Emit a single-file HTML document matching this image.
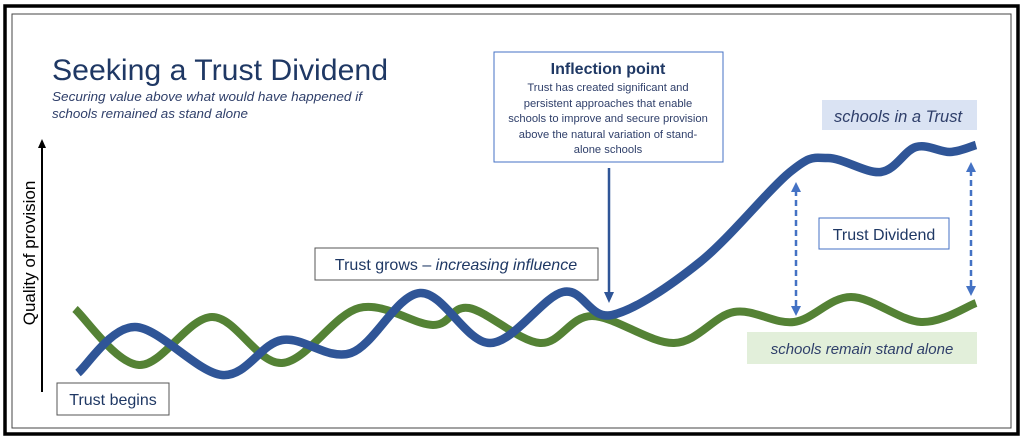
<!DOCTYPE html>
<html><head><meta charset="utf-8"><style>
html,body{margin:0;padding:0;background:#fff;width:1024px;height:438px;overflow:hidden}
svg text{font-family:"Liberation Sans",sans-serif}
</style></head><body>
<svg id="s" width="1024" height="438" viewBox="0 0 1024 438" xmlns="http://www.w3.org/2000/svg">
<rect x="5" y="6" width="1013" height="428" fill="#fff" stroke="#000" stroke-width="3.5"/>
<rect x="12" y="14" width="999" height="414" fill="none" stroke="#444" stroke-width="1"/>
<text x="52" y="80" font-size="30" fill="#1f3864" textLength="336" lengthAdjust="spacingAndGlyphs">Seeking a Trust Dividend</text>
<text x="52" y="101" font-size="13" font-style="italic" fill="#2f3f6a" textLength="310" lengthAdjust="spacingAndGlyphs">Securing value above what would have happened if</text>
<text x="52" y="118" font-size="13" font-style="italic" fill="#2f3f6a" textLength="196" lengthAdjust="spacingAndGlyphs">schools remained as stand alone</text>
<line x1="42" y1="392" x2="42" y2="146" stroke="#000" stroke-width="2"/>
<polygon points="42,139 38,148 46,148" fill="#000"/>
<text transform="translate(35,253) rotate(-90)" text-anchor="middle" font-size="17" fill="#000">Quality of provision</text>
<path id="g" fill="none" stroke="#548235" stroke-width="8" stroke-linecap="butt"/>
<path id="b" fill="none" stroke="#2f5597" stroke-width="8.5" stroke-linecap="butt"/>
<rect x="57" y="383" width="112" height="32" fill="#fff" stroke="#555" stroke-width="1"/>
<text x="113" y="405" text-anchor="middle" font-size="16" fill="#1f3864">Trust begins</text>
<rect x="315" y="248" width="283" height="32" fill="#fff" stroke="#555" stroke-width="1"/>
<text x="456" y="270" text-anchor="middle" font-size="16" fill="#1f3864">Trust grows – <tspan font-style="italic">increasing influence</tspan></text>
<rect x="494" y="52" width="229" height="110" fill="#fff" stroke="#4472c4" stroke-width="1"/>
<text x="608" y="74" text-anchor="middle" font-size="16" font-weight="bold" fill="#1f3864">Inflection point</text>
<g font-size="11.2" fill="#2f3f6a" text-anchor="middle">
<text x="608" y="91">Trust has created significant and</text>
<text x="608" y="107">persistent approaches that enable</text>
<text x="608" y="122">schools to improve and secure provision</text>
<text x="608" y="138">above the natural variation of stand-</text>
<text x="608" y="153">alone schools</text></g>
<line x1="609" y1="168" x2="609" y2="295" stroke="#2f5597" stroke-width="2.5"/>
<polygon points="609,303 604,292 614,292" fill="#2f5597"/>
<rect x="822" y="100" width="155" height="30" fill="#dae3f3"/>
<text x="898" y="122" text-anchor="middle" font-size="16.5" font-style="italic" fill="#2f3f6a">schools in a Trust</text>
<rect x="747" y="332" width="230" height="32" fill="#e2efda"/>
<text x="862" y="354" text-anchor="middle" font-size="15" font-style="italic" fill="#2f3f6a">schools remain stand alone</text>
<g stroke="#4472c4" stroke-width="2.5" stroke-dasharray="6,4">
<line x1="796" y1="190" x2="796" y2="308"/><line x1="971" y1="170" x2="971" y2="288"/></g>
<g fill="#4472c4"><polygon points="796,182 791,192 801,192"/><polygon points="796,316 791,306 801,306"/>
<polygon points="971,162 966,172 976,172"/><polygon points="971,296 966,286 976,286"/></g>
<rect x="819" y="218" width="130" height="31" fill="#fff" stroke="#4472c4" stroke-width="1"/>
<text x="884" y="240" text-anchor="middle" font-size="16" fill="#1f3864">Trust Dividend</text>
</svg>
<script>
function cr(p){let d="M"+p[0][0]+","+p[0][1];for(let i=0;i<p.length-1;i++){const a=p[Math.max(0,i-1)],b=p[i],c=p[i+1],e=p[Math.min(p.length-1,i+2)];
d+=" C"+(b[0]+(c[0]-a[0])/6)+","+(b[1]+(c[1]-a[1])/6)+" "+(c[0]-(e[0]-b[0])/6)+","+(c[1]-(e[1]-b[1])/6)+" "+c[0]+","+c[1];}return d;}
document.getElementById("g").setAttribute("d",cr([[75,309],[139,365],[212,317],[282,363],[359,308],[433,325],[469,308],[540,343],[592,316],[674,343],[734,312],[794,322],[851,297],[921,322],[976,303]]));
document.getElementById("b").setAttribute("d",cr([[78,373],[135,327],[222,375],[282,340],[351,353],[420,293],[490,343],[563,292],[612,315],[700,262],[790,172],[828,158],[881,172],[916,147],[950,152],[976,145]]));
</script>
</body></html>
